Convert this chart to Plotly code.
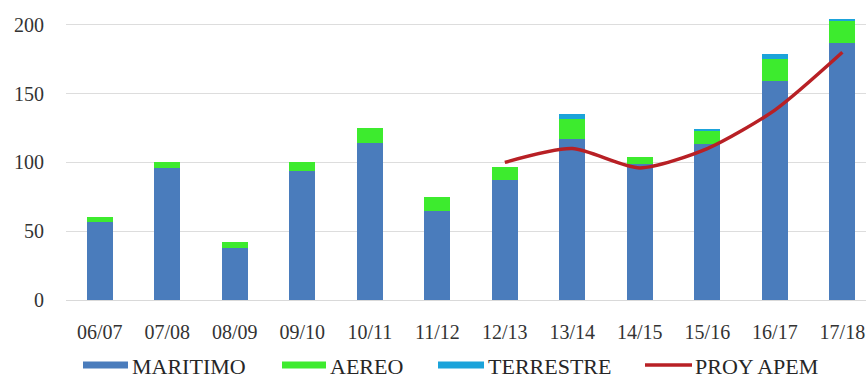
import plotly.graph_objects as go

categories = ["06/07", "07/08", "08/09", "09/10", "10/11", "11/12",
              "12/13", "13/14", "14/15", "15/16", "16/17", "17/18"]
maritimo = [57, 96, 38, 94, 114, 65, 87, 117, 99, 113, 159, 187]
aereo = [3, 4, 4, 6, 11, 10, 10, 14.5, 5, 10, 16, 15.5]
terrestre = [0, 0, 0, 0, 0, 0, 0, 4, 0, 1.5, 3.5, 1.5]
proy_cats = ["12/13", "13/14", "14/15", "15/16", "16/17", "17/18"]
proy_apem = [100, 110, 96, 110, 138, 180]
y_ticks = [0, 50, 100, 150, 200]

FONT = "Times New Roman, Liberation Serif, serif"
C_MAR = "#4A7CBC"
C_AER = "#3DEB2E"
C_TER = "#1BA3DA"
C_PRO = "#B82025"

W, H = 866, 378
L, R, T, B = 66, 0, 11, 78
PW, PH = W - L - R, H - T - B


def px(x):
    return (x - L) / PW


def py(y):
    return (H - B - y) / PH


fig = go.Figure()
fig.add_trace(go.Bar(x=categories, y=maritimo, name="MARITIMO",
                     marker=dict(color=C_MAR, line=dict(width=0))))
fig.add_trace(go.Bar(x=categories, y=aereo, name="AEREO",
                     marker=dict(color=C_AER, line=dict(width=0))))
fig.add_trace(go.Bar(x=categories, y=terrestre, name="TERRESTRE",
                     marker=dict(color=C_TER, line=dict(width=0))))
fig.add_trace(go.Scatter(x=proy_cats, y=proy_apem, name="PROY APEM",
                         mode="lines",
                         line=dict(color=C_PRO, width=3.5, shape="spline",
                                   smoothing=0.7)))

# custom legend (wide swatches like the reference)
legend_items = [
    ("MARITIMO", C_MAR, "bar", 83, 128, 130),
    ("AEREO", C_AER, "bar", 282, 326, 328),
    ("TERRESTRE", C_TER, "bar", 438, 484, 486),
    ("PROY APEM", C_PRO, "line", 645, 692, 693),
]
shapes = []
annotations = []
ly = 365
for name, col, kind, x0, x1, tx in legend_items:
    if kind == "bar":
        shapes.append(dict(type="rect", xref="paper", yref="paper",
                           x0=px(x0), x1=px(x1), y0=py(ly - 3.5), y1=py(ly + 3.5),
                           fillcolor=col, line=dict(width=0)))
    else:
        shapes.append(dict(type="line", xref="paper", yref="paper",
                           x0=px(x0), x1=px(x1), y0=py(ly), y1=py(ly),
                           line=dict(color=col, width=3.5)))
    annotations.append(dict(text=name, xref="paper", yref="paper",
                            x=px(tx), y=py(ly + 1), xanchor="left", yanchor="middle",
                            showarrow=False,
                            font=dict(family=FONT, size=22, color="#262626")))

fig.update_layout(
    width=W, height=H,
    margin=dict(l=L, r=R, t=T, b=B),
    barmode="stack",
    bargap=0.615,
    plot_bgcolor="white",
    paper_bgcolor="white",
    font=dict(family=FONT, color="#404040", size=20),
    showlegend=False,
    shapes=shapes,
    annotations=annotations,
)
fig.update_xaxes(
    type="category",
    range=[-0.5, 11.35],
    showgrid=False,
    showline=True, linecolor="#D9D9D9", linewidth=1,
    ticks="", ticklabelstandoff=14,
    tickfont=dict(family=FONT, size=20, color="#333333"),
)
fig.update_yaxes(
    range=[0, 210],
    tickvals=y_ticks,
    showgrid=True, gridcolor="#DDDDDD", gridwidth=1,
    zeroline=False, showline=False,
    ticks="", ticklabelstandoff=21,
    tickfont=dict(family=FONT, size=20, color="#333333"),
)

fig.write_html("out.html")
